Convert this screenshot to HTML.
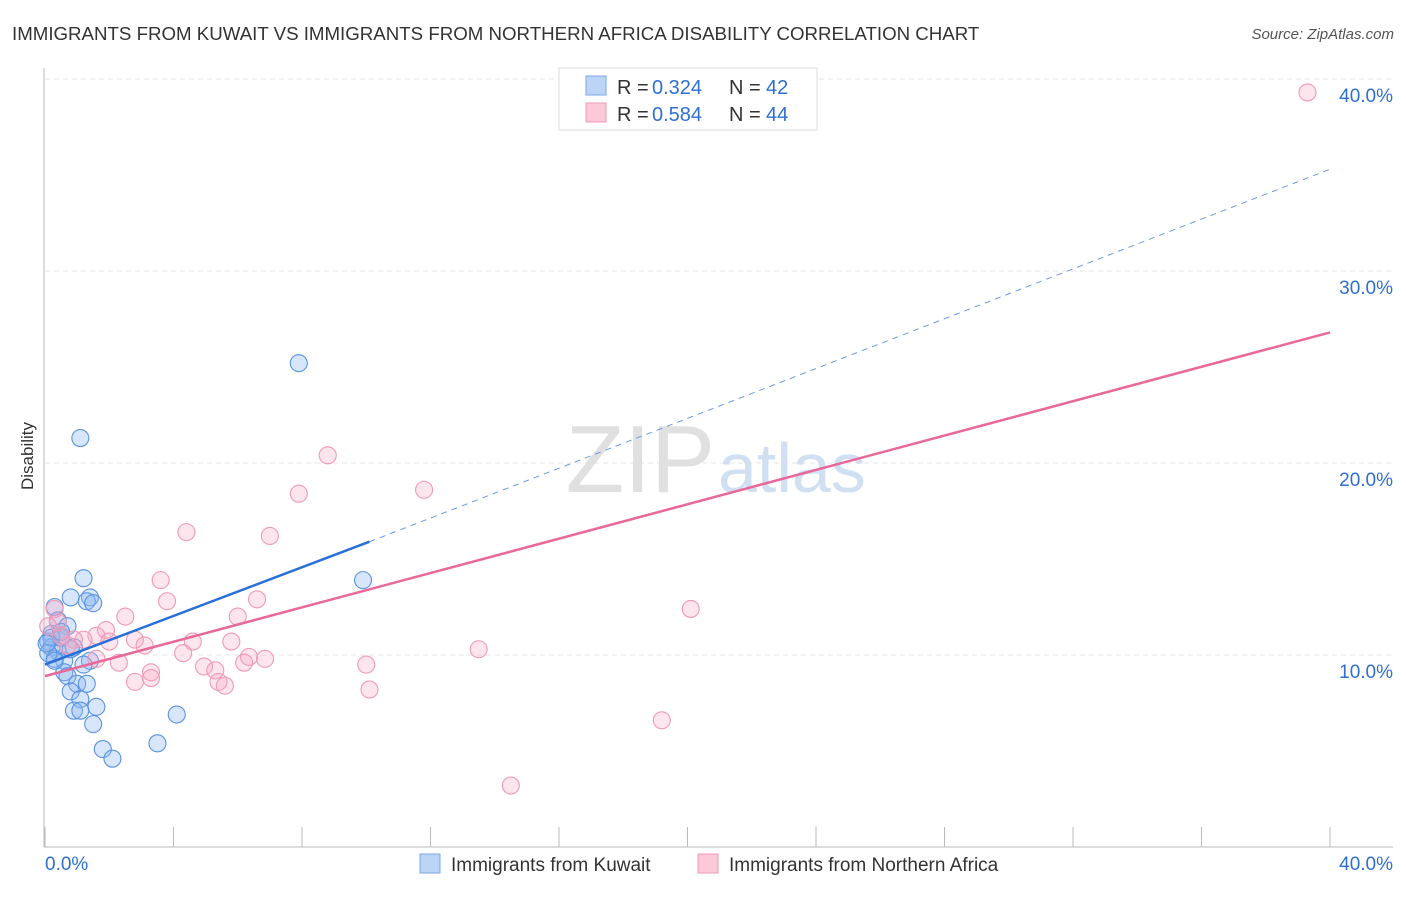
<!DOCTYPE html>
<html><head><meta charset="utf-8"><style>
body{margin:0;background:#fff;font-family:"Liberation Sans",sans-serif;}
svg text{font-family:"Liberation Sans",sans-serif;}
</style></head><body>
<svg width="1406" height="892">
<text x="12" y="40" font-size="18.7" fill="#333">IMMIGRANTS FROM KUWAIT VS IMMIGRANTS FROM NORTHERN AFRICA DISABILITY CORRELATION CHART</text>
<text x="1394" y="39" font-size="15" fill="#555" font-style="italic" text-anchor="end">Source: ZipAtlas.com</text>
<text x="33" y="456" font-size="17" fill="#333" transform="rotate(-90 33 456)" text-anchor="middle">Disability</text>
<g id="grid"></g>
<text x="715" y="492" font-size="96" fill="#e0e0e0" font-family="Liberation Serif" text-anchor="end">ZIP</text>
<text x="718" y="492" font-size="70" fill="#d0e0f2">atlas</text>
<g id="marks"></g>
<g>
<rect x="559" y="68" width="258" height="62" fill="#fff" stroke="#ddd"/>
<rect x="586" y="76" width="20" height="19" fill="#bcd4f5" stroke="#7aa8e8"/>
<rect x="586" y="103" width="20" height="19" fill="#fbc9d8" stroke="#f09ab5"/>
<text x="617" y="94" font-size="20" fill="#333">R =</text>
<text x="652" y="94" font-size="20" fill="#2f6fcf">0.324</text>
<text x="729" y="94" font-size="20" fill="#333">N =</text>
<text x="766" y="94" font-size="20" fill="#2f6fcf">42</text>
<text x="617" y="121" font-size="20" fill="#333">R =</text>
<text x="652" y="121" font-size="20" fill="#2f6fcf">0.584</text>
<text x="729" y="121" font-size="20" fill="#333">N =</text>
<text x="766" y="121" font-size="20" fill="#2f6fcf">44</text>
</g>
<g>
<rect x="420" y="854" width="20" height="19" fill="#bcd4f5" stroke="#7aa8e8"/>
<text x="451" y="871" font-size="19" fill="#333">Immigrants from Kuwait</text>
<rect x="698" y="854" width="20" height="19" fill="#fbc9d8" stroke="#f09ab5"/>
<text x="729" y="871" font-size="19" fill="#333">Immigrants from Northern Africa</text>
</g>
<text x="45" y="870" font-size="19" fill="#2f6fcf">0.0%</text>
<text x="1393" y="870" font-size="19" fill="#2f6fcf" text-anchor="end">40.0%</text>
</svg>
<script>
const yTicks=[10,20,30,40];
const yTickLabels=["10.0%","20.0%","30.0%","40.0%"];
const blueX=[7.9,1.1,9.9,1.2,0.8,1.4,1.3,1.5,0.3,0.4,0.7,0.2,0.5,0.1,0.2,0.4,0.9,1.4,0.6,1.2,0.3,0.6,0.7,1.0,1.3,0.8,1.1,1.6,0.9,1.1,1.5,4.1,1.8,3.5,2.1,0.2,0.1,0.5,0.3,0.8,0.05,0.5];
const blueY=[25.2,21.3,13.9,14.0,13.0,13.0,12.8,12.7,12.5,11.8,11.5,11.1,11.0,10.7,10.4,10.2,10.4,9.7,9.7,9.5,9.8,9.1,8.9,8.5,8.5,8.1,7.7,7.3,7.1,7.1,6.4,6.9,5.1,5.4,4.6,10.9,10.1,10.9,9.7,10.3,10.6,11.2];
const pinkX=[39.3,8.8,7.9,11.8,4.4,7.0,3.6,3.8,6.6,20.1,2.5,6.0,0.3,0.4,1.9,2.8,3.1,4.6,5.8,13.5,1.6,2.0,1.2,0.9,0.5,0.7,0.1,2.3,1.6,3.3,4.95,5.3,6.35,6.2,6.85,10.0,2.8,3.3,5.4,5.6,10.1,19.2,14.5,4.3];
const pinkY=[39.3,20.4,18.4,18.6,16.4,16.2,13.9,12.8,12.9,12.4,12.0,12.0,12.4,11.7,11.3,10.8,10.5,10.7,10.7,10.3,11.0,10.7,10.8,10.8,11.0,10.5,11.5,9.6,9.8,9.1,9.4,9.2,9.9,9.6,9.8,9.5,8.6,8.8,8.6,8.4,8.2,6.6,3.2,10.1];
const blueTrend=[[0,9.5],[10.1,15.9]], blueDash=[[10.1,15.9],[40,35.3]];
const pinkTrend=[[0,8.9],[40,26.8]];
const X0=45,X1=1330,Y0=847,PY=19.2;
const sx=v=>X0+(X1-X0)*v/40, sy=v=>Y0-v*PY;
const NS="http://www.w3.org/2000/svg";
const grid=document.getElementById('grid'), marks=document.getElementById('marks');
function mk(tag,attrs,parent){const e=document.createElementNS(NS,tag);for(const k in attrs)e.setAttribute(k,attrs[k]);parent.appendChild(e);return e;}
yTicks.forEach((t,i)=>{
 const l=mk('line',{x1:45,x2:1393,y1:sy(t),y2:sy(t),stroke:'#e6e6e6','stroke-dasharray':'5,4'},grid);
 
 
 const tx=mk('text',{x:1393,y:sy(t)+23,'font-size':19,fill:'#2f6fcf','text-anchor':'end'},grid);
 tx.textContent=yTickLabels[i];
 
 
});
const ax=mk('line',{x1:44,x2:44,y1:68,y2:847,stroke:'#bbb'},grid);


const bx=mk('line',{x1:44,x2:1393,y1:847,y2:847,stroke:'#bbb'},grid);


for(let i=0;i<=10;i++){const t=mk('line',{x1:sx(i*4),x2:sx(i*4),y1:827,y2:847,stroke:'#bbb'},grid);
 
 }
blueX.forEach((v,i)=>{const c=mk('circle',{cx:sx(v),cy:sy(blueY[i]),r:8.5,fill:'rgba(140,182,240,0.35)',stroke:'#5a92e0','stroke-width':1.1},marks);
 
 });
pinkX.forEach((v,i)=>{const c=mk('circle',{cx:sx(v),cy:sy(pinkY[i]),r:8.5,fill:'rgba(248,170,195,0.3)',stroke:'#ef9ab6','stroke-width':1.1},marks);
 
 });
const l1=mk('line',{x1:sx(blueDash[0][0]),y1:sy(blueDash[0][1]),x2:sx(blueDash[1][0]),y2:sy(blueDash[1][1]),stroke:'#6a9ae0','stroke-width':1,'stroke-dasharray':'6,5'},marks);


const l2=mk('line',{x1:sx(blueTrend[0][0]),y1:sy(blueTrend[0][1]),x2:sx(blueTrend[1][0]),y2:sy(blueTrend[1][1]),stroke:'#2a6fd6','stroke-width':2.5},marks);


const l3=mk('line',{x1:sx(pinkTrend[0][0]),y1:sy(pinkTrend[0][1]),x2:sx(pinkTrend[1][0]),y2:sy(pinkTrend[1][1]),stroke:'#e8689a','stroke-width':2.5},marks);


</script>
</body></html>
